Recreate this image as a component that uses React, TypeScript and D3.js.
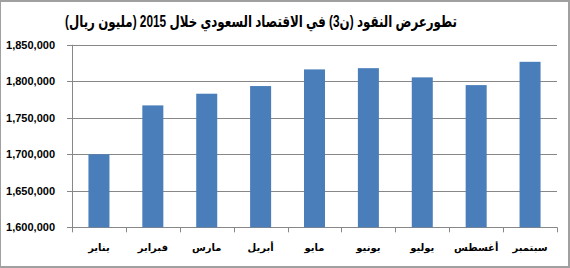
import React from "react";
import * as d3 from "d3";

const months = ["يناير", "فبراير", "مارس", "أبريل", "مايو", "يونيو", "يوليو", "أغسطس", "سبتمبر"];
const values = [1700000, 1767000, 1783000, 1793500, 1816300, 1818000, 1805400, 1794800, 1826700];
const yTicks = [1600000, 1650000, 1700000, 1750000, 1800000, 1850000];
const title = "تطورعرض النقود (ن3) في الاقتصاد السعودي خلال 2015 (مليون ريال)";

const W = 570;
const H = 268;
const left = 72;
const right = 557;
const top = 44.8;
const bottom = 227.3;

export default function App() {
  const x = d3.scaleBand<string>().domain(months).range([left, right]).padding(0);
  const y = d3.scaleLinear().domain([1600000, 1850000]).range([bottom, top]);
  const fmt = d3.format(",");
  const bw = x.bandwidth() * 0.39;
  const grid = "#878787";
  const font = "'Liberation Sans', Arial, 'DejaVu Sans', sans-serif";
  const boundaries = months.map((m) => x(m) as number).concat([right]);

  return (
    <div style={{ position: "fixed", left: 0, top: 0 }}>
      <svg width={W} height={H} style={{ display: "block", background: "#fff" }}>
        <rect x={0} y={1} width={569} height={266} fill="#fff" stroke="#a0a0a0" strokeWidth={2} />
        <text
          x={65}
          y={27}
          textAnchor="start"
          fontFamily={font}
          fontWeight="bold"
          fontSize={16}
          fill="#000"
          textLength={392}
          lengthAdjust="spacingAndGlyphs"
        >
          {title}
        </text>
        {yTicks.map((t) => (
          <g key={t}>
            <line x1={left - 5} x2={right} y1={Math.round(y(t)) + 0.5} y2={Math.round(y(t)) + 0.5} stroke={grid} strokeWidth={1} />
            <text
              x={55}
              y={y(t) + 4}
              textAnchor="end"
              fontFamily={font}
              fontWeight="bold"
              fontSize={11}
              fill="#000"
            >
              {fmt(t)}
            </text>
          </g>
        ))}
        <line x1={left + 0.5} x2={left + 0.5} y1={top} y2={bottom} stroke={grid} strokeWidth={1} />
        {boundaries.map((b, i) => (
          <line key={i} x1={Math.round(b) + 0.5} x2={Math.round(b) + 0.5} y1={bottom} y2={bottom + 5} stroke={grid} strokeWidth={1} />
        ))}
        {months.map((m, i) => {
          const cx = (x(m) as number) + x.bandwidth() / 2;
          return (
            <rect
              key={m}
              x={cx - bw / 2}
              y={y(values[i])}
              width={bw}
              height={bottom - y(values[i])}
              fill="#4a7ebb"
            />
          );
        })}
        {months.map((m) => (
          <text
            key={m}
            x={(x(m) as number) + x.bandwidth() / 2}
            y={251}
            textAnchor="middle"
            fontFamily={font}
            fontWeight="bold"
            fontSize={10}
            fill="#000"
          >
            {m}
          </text>
        ))}
      </svg>
    </div>
  );
}
